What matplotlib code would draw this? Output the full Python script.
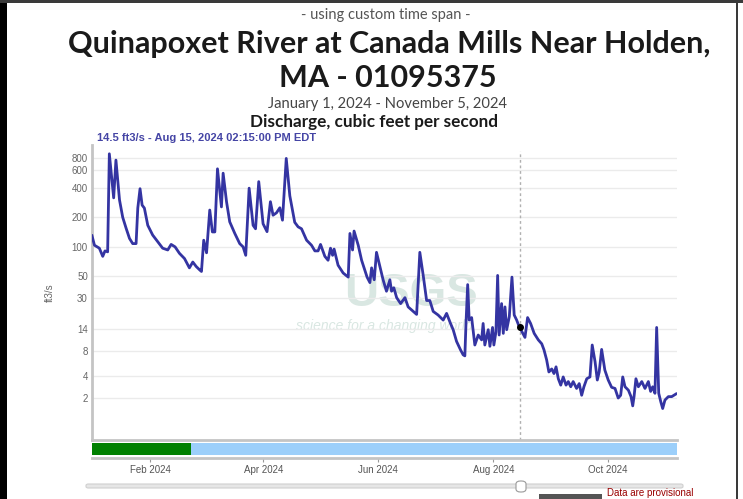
import matplotlib
matplotlib.use('Agg')
import numpy as np
import matplotlib.pyplot as plt
import matplotlib.dates as mdates
from matplotlib.patches import Rectangle, FancyBboxPatch
from datetime import datetime

# discharge readings, days after Jan 1 2024 and ft3/s
days = [0, 1.3, 3.9, 5.7, 6.9, 8.3, 9.2, 11.5, 12.7, 14.6, 16.3, 18.1, 19.9, 21.6, 23.4,
        24.3, 25.5, 26.6, 27.8, 29.6, 32.2, 34.9, 37.5, 40.2, 42.0, 44.1, 46.4, 49.1, 51.7,
        53.5, 55.3, 57.2, 58.1, 59.3, 60.8, 62.5, 63.9, 65.2, 66.6, 68.7, 69.6, 71.4, 73.1,
        75.8, 78.4, 80.2, 81.6, 83.4, 85.5, 86.8, 88.5, 90.8, 92.9, 94.7, 96.1, 97.9, 99.7,
        101.1, 103.1, 105.0, 107.6, 109.4, 111.2, 113.9, 116.5, 118.3, 120.0, 121.3, 123.6,
        125.3, 126.6, 127.7, 128.5, 130.6, 133.3, 136.0, 136.9, 138.3, 139.1, 141.3, 143.1,
        144.8, 146.0, 147.5, 148.4, 149.8, 151.0, 152.8, 154.5, 156.3, 158.1, 159.0, 160.2,
        161.7, 163.8, 166.1, 167.8, 170.5, 172.3, 174.0, 175.8, 177.6, 179.3, 181.1, 183.7,
        186.4, 188.2, 190.3, 191.7, 193.5, 194.7, 195.6, 197.0, 197.9, 198.5, 199.4, 200.2,
        201.5, 203.2, 205.0, 206.8, 207.6, 208.5, 210.3, 211.2, 212.6, 213.3, 214.4, 215.3,
        216.1, 217.4, 218.3, 219.2, 220.1, 221.5, 222.9, 224.1, 225.4, 226.4, 227.0, 229.8,
        231.2, 232.8, 234.7, 236.9, 238.7, 239.9, 241.3, 242.5, 244.0, 245.2, 246.3, 247.5,
        248.8, 250.1, 251.6, 252.8, 254.1, 255.4, 257.2, 258.6, 259.9, 261.1, 262.6, 264.3,
        265.5, 267.0, 268.2, 269.2, 270.5, 272.2, 274.0, 275.8, 277.6, 279.3, 280.6, 281.7,
        282.9, 284.7, 286.1, 287.0, 287.7, 288.7, 290.0, 291.8, 293.5, 295.3, 296.5, 297.6,
        298.8, 299.7, 300.8, 301.9, 302.9, 304.1, 305.9, 307.7, 310.0]
flow = [130, 104, 97, 80, 91, 89, 880, 315, 760, 300, 200, 155, 122, 108, 108,
        248, 390, 266, 248, 166, 132, 113, 97, 93, 106, 100, 86, 76, 61,
        70, 63, 58, 56, 117, 87, 237, 142, 142, 620, 255, 560, 288, 180,
        137, 108, 100, 82, 395, 166, 153, 460, 172, 143, 288, 210, 222, 250,
        187, 790, 330, 178, 160, 153, 117, 104, 91, 91, 106, 80,
        73, 97, 82, 95, 65, 54, 49, 137, 93, 145, 104, 73,
        58, 49, 43, 61, 46, 88, 63, 46, 35, 46, 35, 38,
        30, 26, 30, 24, 21.5, 20, 88, 51, 28, 28, 21.5, 19.7,
        17.4, 20.5, 16, 13.7, 10.2, 9, 8.2, 7.2, 7.0, 16, 41, 17.4,
        18.5, 9.3, 12, 10.6, 16, 9.3, 13.7, 9, 14.5, 9.3, 13, 51,
        12, 26, 12.5, 24, 13.7, 19, 49, 19.7, 17.4, 15.4, 14.5, 11.3,
        18.5, 16, 12.5, 10.6, 9.6, 8.2, 6.3, 4.5, 4.9, 4.3, 5.2, 3.7,
        3.05, 3.9, 3.05, 3.4, 2.9, 3.4, 2.75, 3.2, 2.2, 2.9, 3.7, 3.9,
        9.3, 6, 3.56, 4.5, 8.3, 4.75, 3.56, 2.85, 2.75, 2.0, 2.2, 3.9,
        2.9, 2.6, 2.1, 1.5, 2.1, 3.7, 2.9, 3.4, 2.75, 3.4, 2.5, 2.9,
        2.35, 14.5, 2.35, 1.75, 1.35, 1.86, 2.1, 2.1, 2.3]

ytick_vals = [2, 4, 8, 14, 30, 50, 100, 200, 400, 600, 800]
tick_months = [2, 4, 6, 8, 10]
sel_day = 227
sel_flow = 14.5
approved_end = 52.5  # green part of the status strip

start = mdates.date2num(datetime(2024, 1, 1))
x = start + np.array(days)

HEAD = ['Lato', 'DejaVu Sans']
ARIAL = ['Liberation Sans', 'DejaVu Sans']

fig = plt.figure(figsize=(7.43, 4.99), dpi=100)
W, H = 743, 499


def fx(px):
    return px / W


def fy(py):
    return 1 - py / H


# titles
fig.text(fx(386), fy(15), '- using custom time span -', ha='center', va='center',
         fontsize=10.5, color='#555555', family=HEAD)
fig.text(fx(389), fy(44), 'Quinapoxet River at Canada Mills Near Holden,', ha='center',
         va='center', fontsize=22, fontweight='bold', color='#1a1a1a', family=HEAD)
fig.text(fx(388), fy(78), 'MA - 01095375', ha='center', va='center', fontsize=22,
         fontweight='bold', color='#1a1a1a', family=HEAD)
fig.text(fx(388), fy(104), 'January 1, 2024 - November 5, 2024', ha='center', va='center',
         fontsize=10.6, color='#444444', family=HEAD)
fig.text(fx(374), fy(122), 'Discharge, cubic feet per second', ha='center', va='center',
         fontsize=12.3, fontweight='bold', color='#1a1a1a', family=HEAD)
fig.text(fx(97), fy(138), '14.5 ft3/s - Aug 15, 2024 02:15:00 PM EDT', ha='left', va='center',
         fontsize=8, fontweight='bold', color='#4545a5', family=ARIAL)

# main plot
ax = fig.add_axes([fx(92), fy(440), fx(677) - fx(92), (440 - 145) / H])


def fwd(v):
    return np.log10(np.clip(v, -0.99, None) + 1)


def inv(v):
    return 10 ** v - 1


ax.set_yscale('function', functions=(fwd, inv))
ax.set_ylim(0.13, 1080)
ax.set_xlim(start, start + 310.5)

# watermark
ax.text(0.545, 0.495, 'USGS', transform=ax.transAxes, ha='center', va='center', fontsize=34,
        fontweight='bold', color='#d9e7e2', family=ARIAL, zorder=0)
ax.text(0.5, 0.385, 'science for a changing world', transform=ax.transAxes, ha='center',
        va='center', fontsize=10, style='italic', color='#d9e7e2', family=ARIAL, zorder=0)

ax.plot(x, flow, color='#3434a2', lw=2, zorder=3)
ax.axvline(start + sel_day, color='#b0b0b0', lw=1, ls=(0, (2, 2)), ymax=0.98, zorder=2)
ax.plot(start + sel_day, sel_flow, 'o', color='black', ms=4, zorder=4)

ax.set_yticks(ytick_vals)
ax.set_yticklabels([str(v) for v in ytick_vals], fontsize=7, color='#666666', family=ARIAL)
ax.yaxis.set_minor_locator(matplotlib.ticker.NullLocator())
ax.tick_params(axis='y', length=0, pad=3)
ax.grid(axis='y', color='#ebebeb', lw=1)
ax.set_xticks([])
ax.set_ylabel('ft3/s', fontsize=7, color='#666666', family=ARIAL, labelpad=12)
for s in ['top', 'right']:
    ax.spines[s].set_visible(False)
ax.spines['left'].set_color('#c4c4c4')
ax.spines['left'].set_linewidth(2)
ax.spines['bottom'].set_color('#c4c4c4')
ax.spines['bottom'].set_linewidth(2)

# status strip with month ticks
ax2 = fig.add_axes([fx(92), fy(458), fx(677) - fx(92), 15 / H])
ax2.set_xlim(start, start + 310.5)
ax2.set_ylim(0, 1)
ax2.add_patch(Rectangle((start, 0.2), approved_end, 0.8, color='#008000', lw=0))
ax2.add_patch(Rectangle((start + approved_end, 0.2), 310.5 - approved_end, 0.8,
                        color='#9ccffa', lw=0))
ax2.set_yticks([])
ax2.xaxis.set_major_locator(mdates.MonthLocator(bymonth=tick_months))
ax2.xaxis.set_major_formatter(mdates.DateFormatter('%b %Y'))
ax2.tick_params(axis='x', length=3, color='#999999', labelsize=7, labelcolor='#555555', pad=2)
for lab in ax2.get_xticklabels():
    lab.set_family(ARIAL)
for s in ['top', 'right', 'left']:
    ax2.spines[s].set_visible(False)
ax2.spines['bottom'].set_color('#c4c4c4')
ax2.spines['bottom'].set_linewidth(2)

# slider
fig.patches.append(FancyBboxPatch((fx(86), fy(488)), fx(683) - fx(86), 4 / H,
                                  boxstyle='round,pad=0,rounding_size=0.003',
                                  transform=fig.transFigure, fc='#e6e6e6', ec='#d0d0d0', lw=0.8))
fig.patches.append(FancyBboxPatch((fx(516), fy(492)), 10 / W, 11 / H,
                                  boxstyle='round,pad=0,rounding_size=0.006',
                                  transform=fig.transFigure, fc='white', ec='#999999', lw=0.8))

# bottom right legend fragment
fig.patches.append(Rectangle((fx(539), 0), fx(602) - fx(539), 5 / H, transform=fig.transFigure,
                             fc='#555555', lw=0))
fig.text(fx(607), fy(493), 'Data are provisional', ha='left', va='center',
         fontsize=7, color='#990000', family=ARIAL)

# screenshot frame
fig.patches.append(Rectangle((0, 0), 7 / W, 1, transform=fig.transFigure, fc='black', lw=0))
fig.patches.append(Rectangle((0, fy(3)), 1, 3 / H, transform=fig.transFigure, fc='#3a3a3a', lw=0))
fig.patches.append(Rectangle((fx(736), 0), 2 / W, 1, transform=fig.transFigure,
                             fc='#3a3a3a', lw=0))

fig.savefig('out.png', dpi=100)
